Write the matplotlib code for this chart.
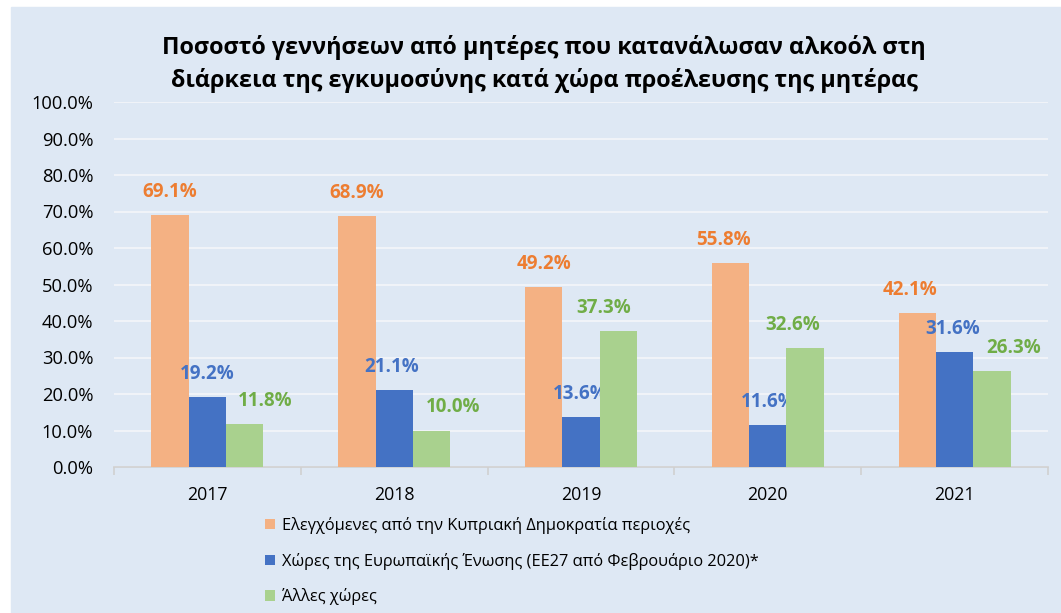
import matplotlib.pyplot as plt
import numpy as np
from matplotlib.ticker import PercentFormatter

plt.rcParams['font.family'] = ['Open Sans', 'DejaVu Sans']

# data
years = ['2017', '2018', '2019', '2020', '2021']
controlled = [69.1, 68.9, 49.2, 55.8, 42.1]
eu_countries = [19.2, 21.1, 13.6, 11.6, 31.6]
other_countries = [11.8, 10.0, 37.3, 32.6, 26.3]
series_names = ['Ελεγχόμενες από την Κυπριακή Δημοκρατία περιοχές',
                'Χώρες της Ευρωπαϊκής Ένωσης (ΕΕ27 από Φεβρουάριο 2020)*',
                'Άλλες χώρες']
title = ('Ποσοστό γεννήσεων από μητέρες που κατανάλωσαν αλκοόλ στη\n'
         'διάρκεια της εγκυμοσύνης κατά χώρα προέλευσης της μητέρας')

bar_colors = ['#f4b183', '#4472c4', '#a9d18e']
label_colors = ['#ed7d31', '#4472c4', '#70ad47']
bg = '#dee8f4'

# horizontal nudges (pixels) of the data labels, as placed in the original
label_dx = [
    [0, 0, 0, -7, -7],
    [0, -3, -1, 0, -2],
    [20, 22, -15, -12, 22],
]

fig = plt.figure(figsize=(10.61, 6.13), dpi=100)
fig.patch.set_facecolor('white')
fig.patches.append(plt.Rectangle((11 / 1061, 0), 1 - 11 / 1061, 1 - 7 / 613,
                                 transform=fig.transFigure, color=bg, zorder=-10))

ax = fig.add_axes([114 / 1061, 1 - 467 / 613, 934 / 1061, 365 / 613])
ax.set_facecolor(bg)

x = np.arange(len(years))
w = 0.2
all_series = [controlled, eu_countries, other_countries]
bars = []
for i, vals in enumerate(all_series):
    b = ax.bar(x + (i - 1) * w, vals, w, color=bar_colors[i], label=series_names[i], zorder=3)
    bars.append(b)
    for j, v in enumerate(vals):
        ax.annotate(f'{v:.1f}%', (x[j] + (i - 1) * w, v), xytext=(label_dx[i][j], 23),
                    textcoords='offset pixels', ha='center', va='center',
                    color=label_colors[i], fontsize=13.5, fontweight='bold')

ax.set_xlim(-0.5, len(years) - 0.5)
ax.set_ylim(0, 100)
ax.set_yticks(np.arange(0, 101, 10))
ax.yaxis.set_major_formatter(PercentFormatter(decimals=1))
ax.set_xticks(x)
ax.set_xticklabels(years)
ax.set_xticks(np.arange(-0.5, len(years)), minor=True)
ax.tick_params(axis='x', which='major', length=0, pad=14, labelsize=12.8)
ax.tick_params(axis='x', which='minor', length=6, color='#d0d0d0', width=1.2)
ax.tick_params(axis='y', length=0, pad=15, labelsize=13.2)
ax.grid(axis='y', color='#f0f3f8', linewidth=1.5, zorder=0)
for s in ['top', 'right', 'left']:
    ax.spines[s].set_visible(False)
ax.spines['bottom'].set_color('#d0d0d0')
ax.spines['bottom'].set_linewidth(1.2)

fig.text(0.513, 1 - 64 / 613, title, ha='center', va='center', fontsize=16.8,
         fontweight='bold', linespacing=1.42)

fig.legend(handles=bars, loc='upper left', bbox_to_anchor=(250 / 1061, 1 - 502 / 613),
           frameon=False, fontsize=11.8, handlelength=0.6, handleheight=0.6,
           handletextpad=0.45, labelspacing=1.15)

fig.savefig('out.png', dpi=100, facecolor=fig.get_facecolor())
